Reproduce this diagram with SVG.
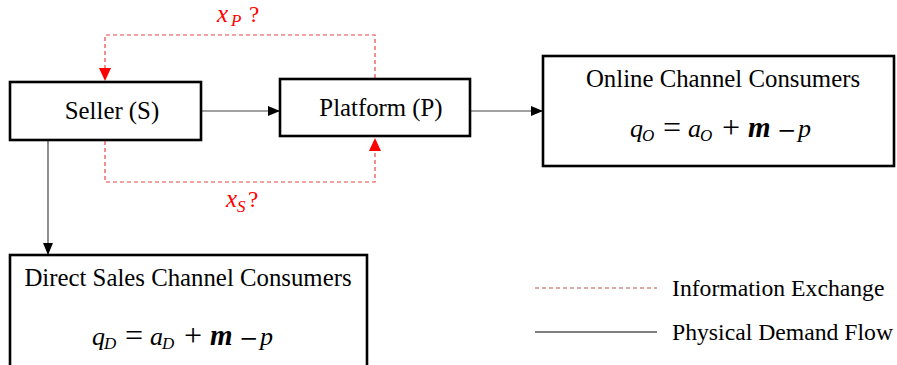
<svg xmlns="http://www.w3.org/2000/svg" width="897" height="365" viewBox="0 0 897 365">
<defs>
<style>
.box{fill:#fff;stroke:#000;stroke-width:2.6}
.t{font-family:"Liberation Serif","Times New Roman",serif;font-size:24.8px;fill:#000}
.lg{font-family:"Liberation Serif","Times New Roman",serif;font-size:23.7px;fill:#000}
.v{font-family:"Liberation Serif","Times New Roman",serif;font-size:26px;font-style:italic;fill:#000}
.s{font-family:"Liberation Serif","Times New Roman",serif;font-size:17px;font-style:italic;fill:#000}
.bm{font-family:"Liberation Serif","Times New Roman",serif;font-size:29px;font-style:italic;font-weight:bold;fill:#000}
.op{font-family:"Liberation Serif","Times New Roman",serif;font-size:32px;fill:#000}
.mn{font-family:"DejaVu Serif",serif;font-size:23px;fill:#000}
.red{fill:#f00}
.xr{font-family:"Liberation Serif","Times New Roman",serif;font-size:25px;font-style:italic;fill:#f00}
.q{font-family:"Liberation Serif","Times New Roman",serif;font-size:23px;fill:#f00}
.flow{fill:none;stroke:#444;stroke-width:1.2}
.info{fill:none;stroke:#e84545;stroke-width:1.2;stroke-dasharray:4 3}
</style>
<marker id="ab" viewBox="0 0 12 10" refX="12" refY="5" markerWidth="12" markerHeight="10" markerUnits="userSpaceOnUse" orient="auto"><path d="M0,0 L12,5 L0,10 Z" fill="#000"/></marker>
<marker id="ar" viewBox="0 0 13 12" refX="13" refY="6" markerWidth="13" markerHeight="12" markerUnits="userSpaceOnUse" orient="auto"><path d="M0,0 L13,6 L0,12 Z" fill="#f00"/></marker>
</defs>
<g id="connectors">
<line class="flow" x1="202" y1="111" x2="280" y2="111" marker-end="url(#ab)"/>
<line class="flow" x1="471" y1="111" x2="543" y2="111" marker-end="url(#ab)"/>
<line class="flow" x1="48" y1="141" x2="48" y2="255" marker-end="url(#ab)"/>
<path class="info" d="M375,78 V35 H105 V70"/>
<path d="M105,69 V81" stroke="none" fill="none" marker-end="url(#ar)"/>
<path class="info" d="M105,141 V182 H375 V150"/>
<path d="M375,150 V138" stroke="none" fill="none" marker-end="url(#ar)"/>
<text class="xr" x="217" y="22">x</text><text class="s red" x="231" y="26">P</text><text class="q" x="249" y="22">?</text>
<text class="xr" x="226" y="207">x</text><text class="s red" x="237" y="212">S</text><text class="q" x="248" y="207">?</text>
</g>
<g id="seller">
<rect class="box" x="10" y="82" width="191" height="58"/>
<text class="t" x="112" y="119" text-anchor="middle">Seller (S)</text>
</g>
<g id="platform">
<rect class="box" x="280" y="79" width="190" height="57"/>
<text class="t" x="381" y="116" text-anchor="middle">Platform (P)</text>
</g>
<g id="online">
<rect class="box" x="543" y="56" width="351" height="110"/>
<text class="t" x="723" y="87" text-anchor="middle">Online Channel Consumers</text>
<g transform="translate(0,137)">
<text class="v" x="630" y="0">q</text><text class="s" x="642" y="4">O</text>
<text class="op" x="663" y="1">=</text>
<text class="v" x="688" y="0">a</text><text class="s" x="700" y="4">O</text>
<text class="op" x="722" y="1">+</text>
<text class="bm" x="748" y="0">m</text>
<text class="mn" x="777" y="1">−</text>
<text class="v" x="798" y="0">p</text>
</g>
</g>
<g id="direct">
<rect class="box" x="10" y="255" width="357" height="115"/>
<text class="t" x="188" y="286" text-anchor="middle">Direct Sales Channel Consumers</text>
<g transform="translate(-538,345)">
<text class="v" x="630" y="0">q</text><text class="s" x="642" y="4">D</text>
<text class="op" x="663" y="1">=</text>
<text class="v" x="688" y="0">a</text><text class="s" x="700" y="4">D</text>
<text class="op" x="722" y="1">+</text>
<text class="bm" x="748" y="0">m</text>
<text class="mn" x="777" y="1">−</text>
<text class="v" x="798" y="0">p</text>
</g>
</g>
<g id="legend">
<line x1="535" y1="288" x2="657" y2="288" stroke="#c0504d" stroke-width="1.2" stroke-dasharray="4 3"/>
<line x1="535" y1="332" x2="657" y2="332" stroke="#000" stroke-width="1.2"/>
<text class="lg" x="672" y="296">Information Exchange</text>
<text class="lg" x="672" y="340">Physical Demand Flow</text>
</g>
</svg>
